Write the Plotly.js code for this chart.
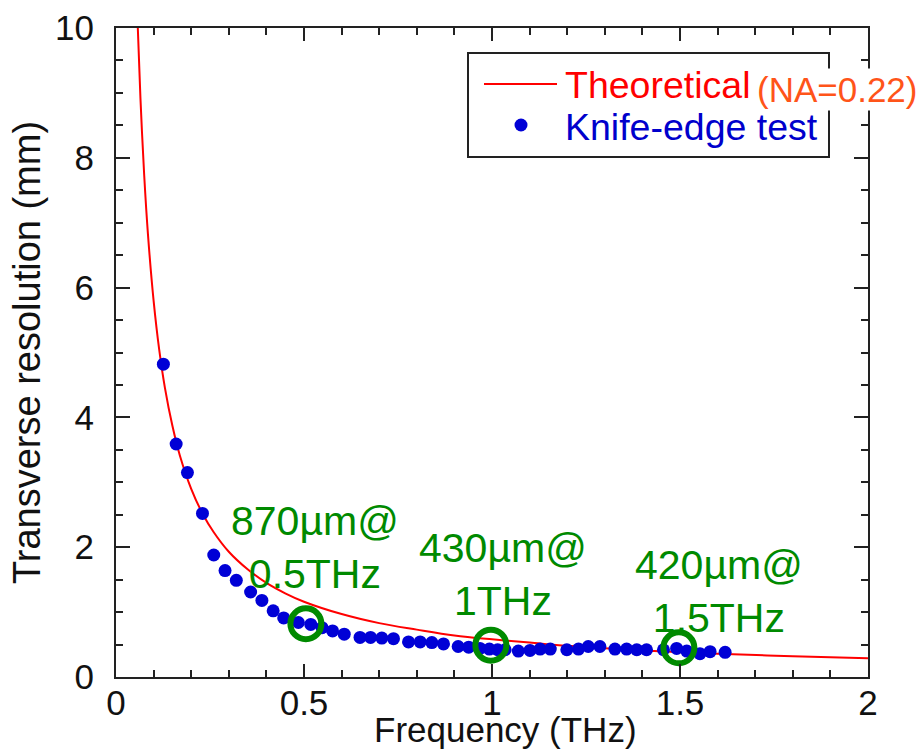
<!DOCTYPE html>
<html>
<head>
<meta charset="utf-8">
<script src="https://cdn.plot.ly/plotly-3.0.1.min.js"></script>
<style>
  html, body { margin: 0; padding: 0; background: #fff; }
  #chart { width: 924px; height: 752px; }
</style>
</head>
<body>
<div id="chart"></div>
<script>
// Theoretical curve (NA = 0.22)
const theoFreq = [0.058,0.065,0.075,0.085,0.10,0.115,0.13,0.15,0.17,0.20,0.23,0.26,0.30,0.35,0.40,0.45,0.50,0.60,0.70,0.80,0.90,1.00,1.10,1.20,1.40,1.60,1.80,2.00];
const theoRes  = [10.0,8.92,7.73,6.82,5.80,5.04,4.46,3.87,3.41,2.90,2.52,2.23,1.93,1.66,1.45,1.29,1.16,0.97,0.83,0.73,0.64,0.58,0.53,0.48,0.41,0.36,0.32,0.29];

// Knife-edge test measurements
const knifeFreq = [0.126,0.160,0.190,0.230,0.260,0.290,0.320,0.358,0.388,0.418,0.446,0.485,0.518,0.548,0.576,0.607,0.649,0.677,0.707,0.738,0.778,0.809,0.840,0.871,0.910,0.938,0.968,0.993,1.015,1.035,1.070,1.101,1.128,1.155,1.199,1.230,1.256,1.287,1.327,1.358,1.385,1.411,1.456,1.491,1.518,1.553,1.580,1.620];
const knifeRes  = [4.82,3.59,3.15,2.52,1.88,1.64,1.49,1.31,1.18,1.02,0.91,0.84,0.81,0.76,0.71,0.66,0.61,0.61,0.60,0.59,0.54,0.54,0.53,0.51,0.47,0.46,0.44,0.43,0.42,0.42,0.40,0.41,0.43,0.43,0.42,0.43,0.47,0.47,0.43,0.43,0.42,0.42,0.42,0.44,0.40,0.36,0.39,0.38];

// Highlighted points and their labels
const markFreq = [0.505, 0.997, 1.497];
const markRes  = [0.82, 0.49, 0.45];
const markLabels = ['870µm@<br>0.5THz', '430µm@<br>1THz', '420µm@<br>1.5THz'];
const labelFreq = [0.53, 1.03, 1.603];
const labelRes  = [1.2, 0.78, 0.53];

const legendNames = ['Theoretical', 'Knife-edge test'];
const naText = '(NA=0.22)';

const xTickVals = [0, 0.5, 1, 1.5, 2];
const xTickText = ['0', '0.5', '1', '1.5', '2'];
const yTickVals = [0, 2, 4, 6, 8, 10];
const yTickText = ['0', '2', '4', '6', '8', '10'];

const FONT = 'Liberation Sans, Arial, sans-serif';
const GREEN = '#008a00';
const RED = '#ff0000';
const BLUE = '#0000d6';

const traces = [
  {
    x: theoFreq, y: theoRes, type: 'scatter', mode: 'lines',
    line: { color: RED, width: 2, shape: 'spline' },
    name: legendNames[0], showlegend: false
  },
  {
    x: knifeFreq, y: knifeRes, type: 'scatter', mode: 'markers',
    marker: { color: BLUE, size: 13 },
    name: legendNames[1], showlegend: false
  },
  {
    x: markFreq, y: markRes, type: 'scatter', mode: 'markers',
    marker: { symbol: 'circle-open', size: 31, color: GREEN, line: { color: GREEN, width: 6 } },
    showlegend: false, hoverinfo: 'skip'
  }
];

// pixel helpers for the hand-made legend box (plot area: 116..868 x 28..677)
const px = v => (v - 116) / 752;
const py = v => (677 - v) / 649;

const annotations = markLabels.map((t, i) => ({
  x: labelFreq[i], y: labelRes[i], xref: 'x', yref: 'y',
  text: t, showarrow: false, xanchor: 'center', yanchor: 'bottom',
  font: { family: FONT, size: 41, color: GREEN }
}));
annotations.push(
  { x: px(563), y: py(85), xref: 'paper', yref: 'paper', text: legendNames[0],
    showarrow: false, xanchor: 'left', yanchor: 'middle',
    font: { family: FONT, size: 37.5, color: RED } },
  { x: px(563), y: py(127), xref: 'paper', yref: 'paper', text: legendNames[1],
    showarrow: false, xanchor: 'left', yanchor: 'middle',
    font: { family: FONT, size: 37.5, color: '#0000cc' } },
  { x: px(837), y: py(89), xref: 'paper', yref: 'paper', text: naText,
    showarrow: false, xanchor: 'center', yanchor: 'middle',
    bgcolor: '#ffffff', borderpad: 1,
    font: { family: FONT, size: 35, color: '#ff5419' } },
  { x: px(505), y: py(729), xref: 'paper', yref: 'paper', text: 'Frequency (THz)',
    showarrow: false, xanchor: 'center', yanchor: 'middle', borderpad: 0,
    font: { family: FONT, size: 35, color: '#111' } }
);

const shapes = [
  { type: 'rect', xref: 'paper', yref: 'paper', x0: px(468), x1: px(829), y0: py(53), y1: py(157),
    line: { color: '#222', width: 2 }, fillcolor: '#ffffff', layer: 'above' },
  { type: 'line', xref: 'paper', yref: 'paper', x0: px(484), x1: px(557), y0: py(84), y1: py(84),
    line: { color: RED, width: 2 }, layer: 'above' },
  { type: 'circle', xref: 'paper', yref: 'paper', xsizemode: 'pixel', ysizemode: 'pixel',
    xanchor: px(521), yanchor: py(125), x0: -6.5, x1: 6.5, y0: -6.5, y1: 6.5,
    fillcolor: BLUE, line: { width: 0 }, layer: 'above' }
];

const axisCommon = {
  showline: true, linecolor: '#222', linewidth: 2, mirror: 'ticks',
  ticks: 'inside', tickwidth: 2, tickcolor: '#222',
  showgrid: false, zeroline: false,
  tickfont: { family: FONT, size: 35, color: '#111' }
};

const layout = {
  width: 924, height: 752,
  margin: { l: 116, r: 56, t: 28, b: 75 },
  paper_bgcolor: '#fff', plot_bgcolor: '#fff',
  showlegend: false,
  xaxis: Object.assign({}, axisCommon, {
    range: [0, 2], tickvals: xTickVals, ticktext: xTickText, ticklen: 13,
    ticklabelstandoff: -6,
    minor: { dtick: 0.1, ticks: 'inside', ticklen: 7, tickwidth: 2, tickcolor: '#222', showgrid: false }
  }),
  yaxis: Object.assign({}, axisCommon, {
    range: [0, 10], tickvals: yTickVals, ticktext: yTickText, ticklen: 14,
    ticklabelstandoff: 13,
    minor: { dtick: 0.5, ticks: 'inside', ticklen: 7, tickwidth: 2, tickcolor: '#222', showgrid: false },
    title: { text: 'Transverse resolution (mm)', font: { family: FONT, size: 38, color: '#111' }, standoff: 3 }
  }),
  shapes: shapes,
  annotations: annotations
};

Plotly.newPlot('chart', traces, layout, { displayModeBar: false, staticPlot: true });
</script>
</body>
</html>
